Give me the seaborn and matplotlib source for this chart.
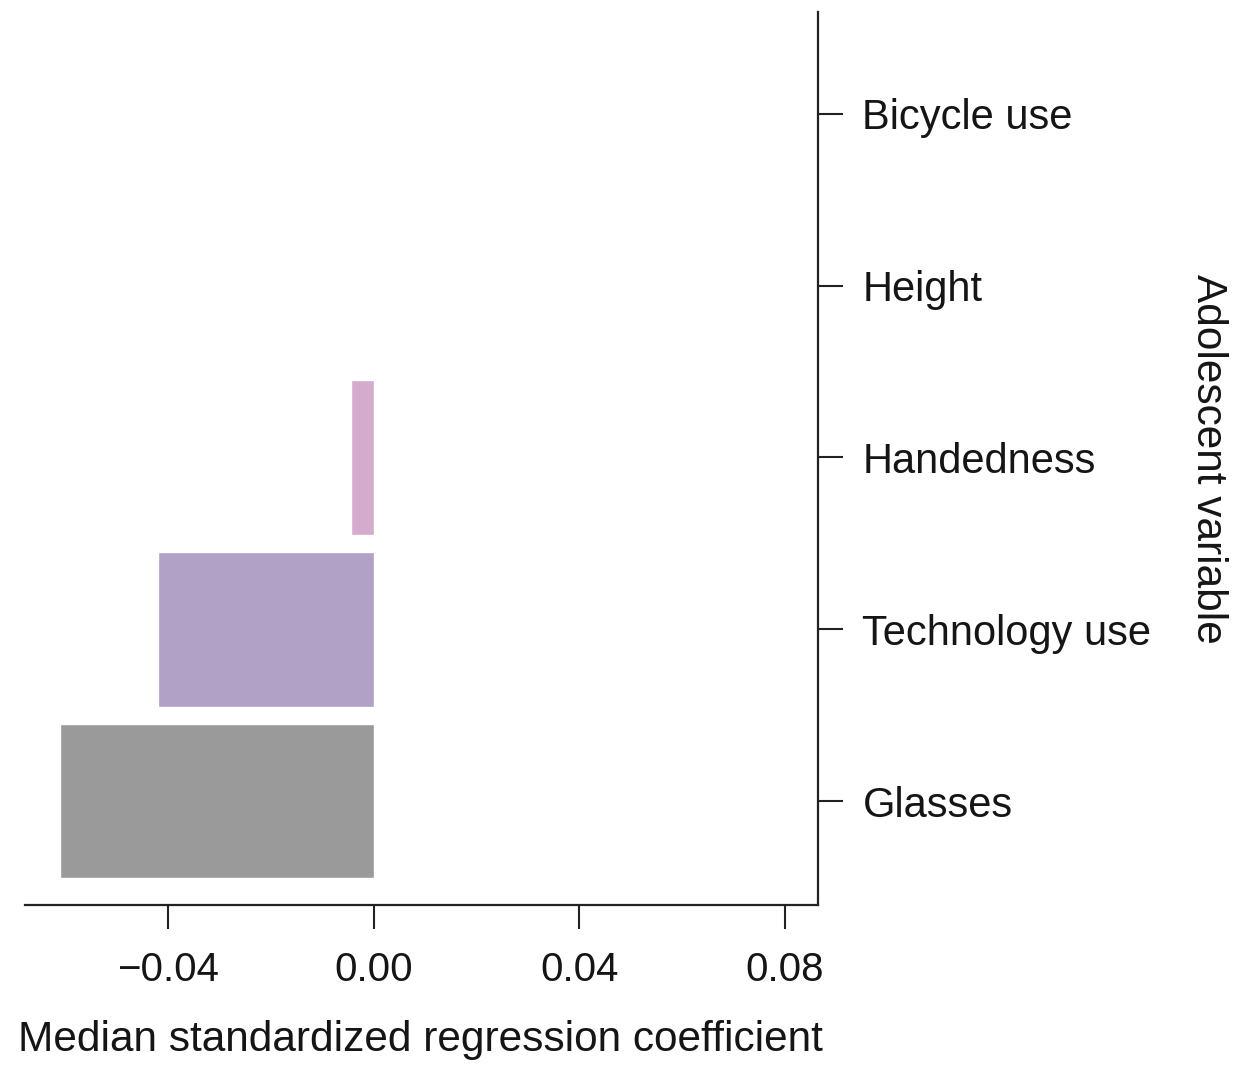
import pandas as pd
import matplotlib
matplotlib.use('Agg')
import matplotlib.pyplot as plt
import seaborn as sns

# values, top to bottom
variables = ["Bicycle use", "Height", "Handedness", "Technology use", "Glasses"]
coefficients = [0.0, 0.0, -0.0044, -0.042, -0.0611]
bar_colors = ["#d4abcd", "#d4abcd", "#d4abcd", "#b1a1c6", "#9a9a9a"]
x_ticks = [-0.04, 0.00, 0.04, 0.08]
x_tick_labels = ["\u22120.04", "0.00", "0.04", "0.08"]

sns.set_style("white")
plt.rcParams['font.family'] = ['Liberation Sans', 'DejaVu Sans']
plt.rcParams['text.color'] = '#151515'
plt.rcParams['xtick.labelcolor'] = '#151515'
plt.rcParams['ytick.labelcolor'] = '#151515'
plt.rcParams['axes.labelcolor'] = '#151515'

df = pd.DataFrame({"variable": variables, "coef": coefficients})

fig = plt.figure(figsize=(12.35, 10.67), dpi=100)
ax = fig.add_axes([0.0202, 0.1518, 0.6421, 0.837])

sns.barplot(data=df, x="coef", y="variable", hue="variable", order=variables,
            palette=dict(zip(variables, bar_colors)), orient="h", width=0.9,
            legend=False, saturation=1, ax=ax)

ax.set_xlim(-0.0679, 0.0864)
ax.set_ylim(4.605, -0.593)

# spines: bottom and right only
for side in ["top", "left"]:
    ax.spines[side].set_visible(False)
for side in ["bottom", "right"]:
    ax.spines[side].set_color("#222222")
    ax.spines[side].set_linewidth(1.6)

ax.yaxis.tick_right()
ax.yaxis.set_label_position("right")
ax.set_xticks(x_ticks)
ax.set_xticklabels(x_tick_labels)
ax.tick_params(axis="x", bottom=True, length=17, width=1.5, color="#222222",
               labelsize=29, pad=16)
ax.tick_params(axis="y", right=True, left=False, length=18, width=1.5,
               color="#222222", labelsize=30, pad=14)

ax.set_xlabel("Median standardized regression coefficient", fontsize=30.5,
              va="center")
ax.xaxis.set_label_coords(0.499, -0.151)
ax.set_ylabel("Adolescent variable", fontsize=30.5, rotation=-90, va="center")
ax.yaxis.set_label_coords(1.492, 0.5)

fig.savefig("out.png", dpi=100, facecolor="white")
